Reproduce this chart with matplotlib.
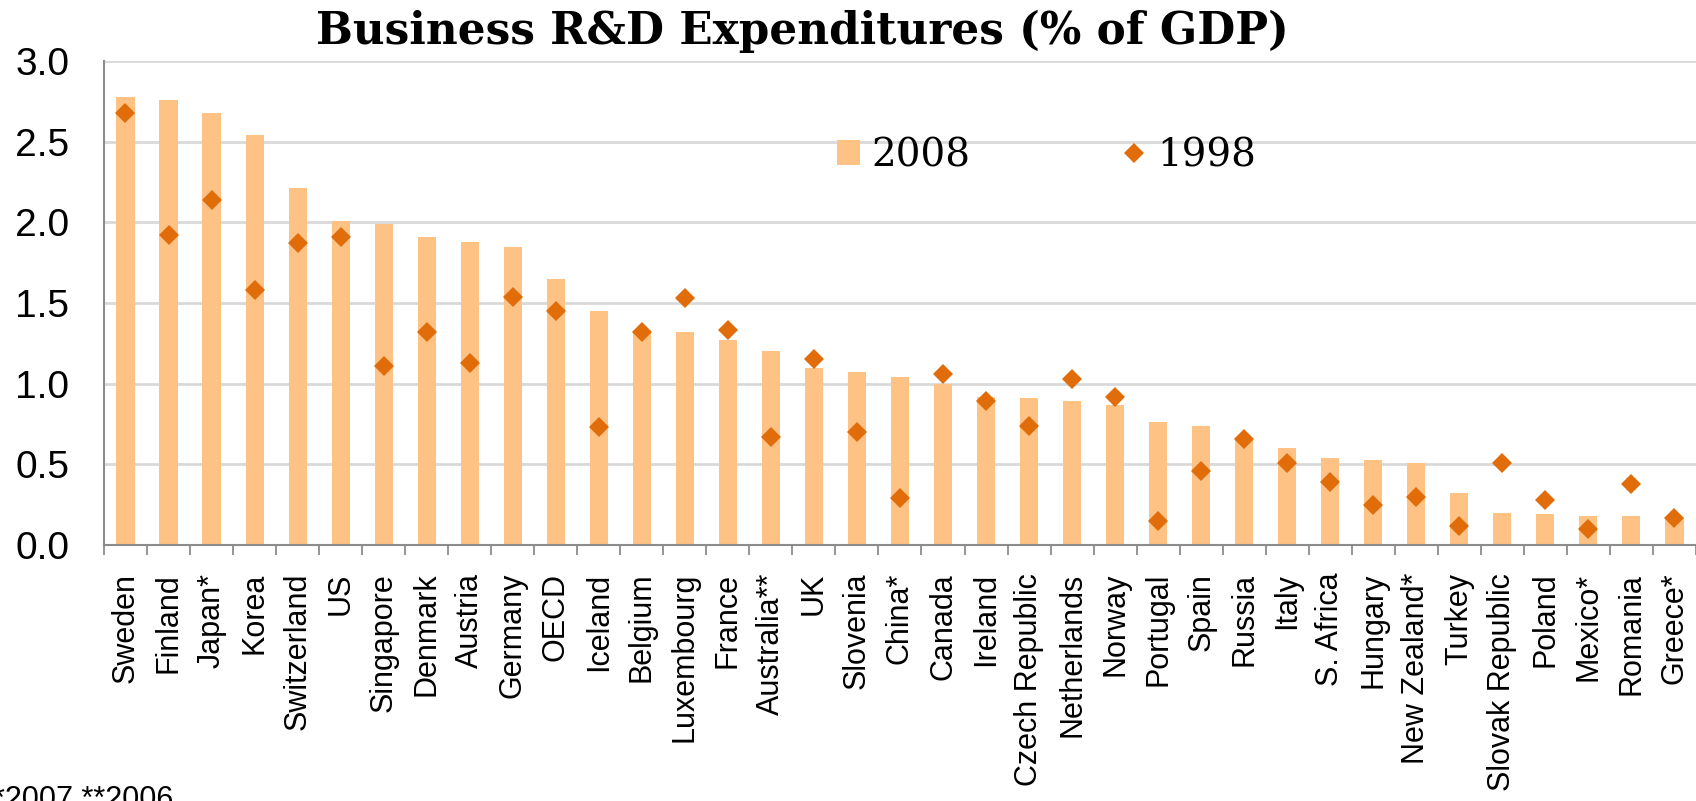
import numpy as np
import matplotlib
matplotlib.use("Agg")
import matplotlib.pyplot as plt
from matplotlib.patches import Patch
from matplotlib.lines import Line2D

countries = ['Sweden', 'Finland', 'Japan*', 'Korea', 'Switzerland', 'US',
             'Singapore', 'Denmark', 'Austria', 'Germany', 'OECD', 'Iceland',
             'Belgium', 'Luxembourg', 'France', 'Australia**', 'UK', 'Slovenia',
             'China*', 'Canada', 'Ireland', 'Czech Republic', 'Netherlands',
             'Norway', 'Portugal', 'Spain', 'Russia', 'Italy', 'S. Africa',
             'Hungary', 'New Zealand*', 'Turkey', 'Slovak Republic', 'Poland',
             'Mexico*', 'Romania', 'Greece*']

rd_2008 = [2.78, 2.76, 2.68, 2.54, 2.21, 2.01, 1.99, 1.91, 1.88, 1.85, 1.65,
           1.45, 1.32, 1.32, 1.27, 1.20, 1.10, 1.07, 1.04, 1.00, 0.92, 0.91,
           0.89, 0.87, 0.76, 0.74, 0.66, 0.60, 0.54, 0.53, 0.51, 0.32, 0.20,
           0.19, 0.18, 0.18, 0.17]

rd_1998 = [2.68, 1.92, 2.14, 1.58, 1.87, 1.91, 1.11, 1.32, 1.13, 1.54, 1.45,
           0.73, 1.32, 1.53, 1.33, 0.67, 1.15, 0.70, 0.29, 1.06, 0.89, 0.74,
           1.03, 0.92, 0.15, 0.46, 0.66, 0.51, 0.39, 0.25, 0.30, 0.12, 0.51,
           0.28, 0.10, 0.38, 0.17]

bar_color = '#FFC285'
dot_color = '#E06C0A'
serif = ['DejaVu Serif']
sans = ['Liberation Sans', 'DejaVu Sans']

fig = plt.figure(figsize=(16.96, 8.01), dpi=100)
ax = fig.add_axes([0.0613, 0.3196, 0.9387, 0.6042])

x = np.arange(len(countries))
ax.bar(x, rd_2008, width=0.42, color=bar_color, zorder=2)
ax.plot(x, rd_1998, linestyle='none', marker='D', markersize=10.5,
        color=dot_color, markeredgewidth=0, zorder=3)

ax.set_xlim(-0.5, len(countries) - 0.5)
ax.set_ylim(0, 3.0)
yt = np.arange(0, 3.01, 0.5)
ax.set_yticks(yt)
ax.set_yticklabels([f'{v:.1f}' for v in yt], fontsize=28, family=sans)
ax.tick_params(axis='y', length=0, pad=25)

ax.set_xticks(x)
ax.set_xticklabels(countries, rotation=90, fontsize=22, family=sans)
ax.set_xticks(np.arange(-0.5, len(countries), 1), minor=True)
ax.tick_params(axis='x', which='major', length=0, pad=20)
ax.tick_params(axis='x', which='minor', length=7.5, width=1.3, color='#8C8C8C')

ax.grid(axis='y', color='#D9D9D9', linewidth=2, zorder=0)
ax.set_axisbelow(True)
for side in ['top', 'right']:
    ax.spines[side].set_visible(False)
for side in ['left', 'bottom']:
    ax.spines[side].set_color('#8C8C8C')
    ax.spines[side].set_linewidth(1.5)

fig.text(0.473, 0.945, 'Business R&D Expenditures (% of GDP)', ha='center',
         va='baseline', fontsize=31.5, fontweight='bold', family=serif)

handles = [Patch(facecolor=bar_color, edgecolor='none'),
           Line2D([], [], linestyle='none', marker='D', markersize=10.5,
                  color=dot_color, markeredgewidth=0)]
ax.legend(handles, ['2008', '1998'], ncol=2, frameon=False,
          loc='center', bbox_to_anchor=(0.592, 0.804),
          prop={'family': serif, 'size': 28}, columnspacing=3.9,
          handlelength=0.6, handleheight=0.6, handletextpad=0.3)

fig.text(-0.004, 1 - 785 / 801, '*2007 **2006', ha='left', va='top',
         fontsize=22, family=sans)

fig.savefig('out.png', dpi=100)
